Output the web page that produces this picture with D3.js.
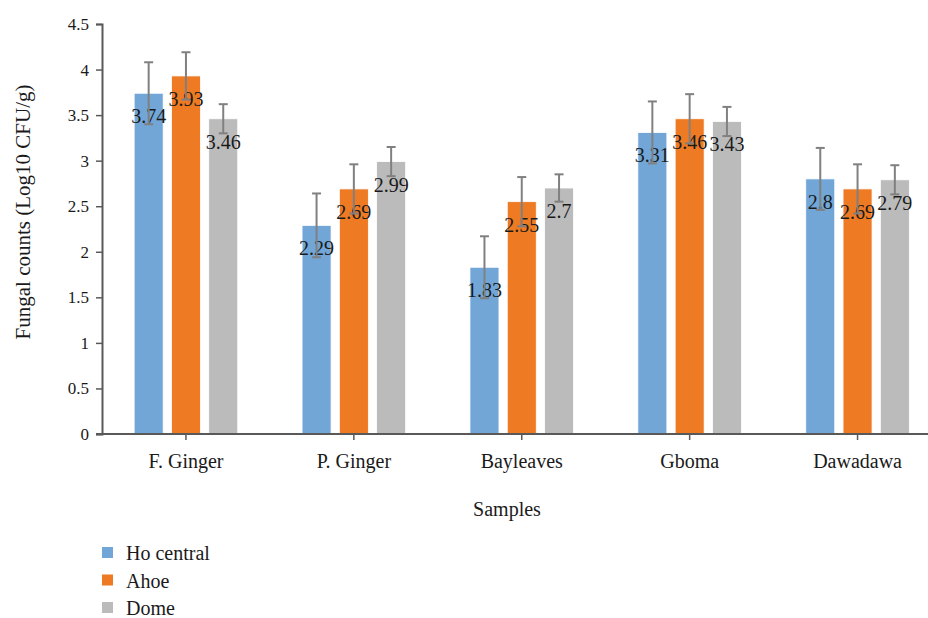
<!DOCTYPE html>
<html>
<head>
<meta charset="utf-8">
<script src="https://cdn.jsdelivr.net/npm/d3@7"></script>
<style>
  html, body { margin: 0; padding: 0; background: #fff; }
  svg { display: block; }
  svg text { font-family: "Liberation Serif", "Times New Roman", serif; }
</style>
</head>
<body>
<svg id="chart" width="928" height="618"></svg>
<script>
const categories = ["F. Ginger", "P. Ginger", "Bayleaves", "Gboma", "Dawadawa"];
const seriesNames = ["Ho central", "Ahoe", "Dome"];
const hoCentral = [3.74, 2.29, 1.83, 3.31, 2.8];
const ahoe = [3.93, 2.69, 2.55, 3.46, 2.69];
const dome = [3.46, 2.99, 2.7, 3.43, 2.79];
const hoCentralErr = [0.34, 0.35, 0.34, 0.34, 0.34];
const ahoeErr = [0.26, 0.27, 0.27, 0.27, 0.27];
const domeErr = [0.16, 0.16, 0.15, 0.16, 0.16];
const yTicks = [0, 0.5, 1, 1.5, 2, 2.5, 3, 3.5, 4, 4.5];
const colors = ["#71A6D7", "#EE7A23", "#BBBBBB"];

const values = [hoCentral, ahoe, dome];
const errors = [hoCentralErr, ahoeErr, domeErr];

const svg = d3.select("#chart");
const mLeft = 102, mRight = 941.5, mTop = 24, mBottom = 434;

const x0 = d3.scaleBand().domain(categories).range([mLeft, mRight])
  .paddingInner(0.383).paddingOuter(0.1915);
const x1 = d3.scaleBand().domain(seriesNames).range([0, x0.bandwidth()]).paddingInner(0.222);
const y = d3.scaleLinear().domain([0, 4.5]).range([mBottom, mTop]);

const data = [];
categories.forEach((c, i) => seriesNames.forEach((s, j) => {
  data.push({cat: c, ser: s, v: values[j][i], e: errors[j][i], color: colors[j]});
}));

const g = svg.append("g");
g.selectAll("rect.bar").data(data).join("rect")
  .attr("class", "bar")
  .attr("x", d => x0(d.cat) + x1(d.ser))
  .attr("y", d => y(d.v))
  .attr("width", x1.bandwidth())
  .attr("height", d => y(0) - y(d.v))
  .attr("fill", d => d.color)
  .attr("stroke", "#ffffff").attr("stroke-width", 0.8);

g.selectAll("text.lbl").data(data).join("text")
  .attr("class", "lbl")
  .attr("x", d => x0(d.cat) + x1(d.ser) + x1.bandwidth() / 2)
  .attr("y", d => y(d.v) + 30)
  .attr("text-anchor", "middle")
  .attr("font-size", 20)
  .attr("fill", "#1a1a1a")
  .text(d => d.v);

const eb = g.selectAll("g.err").data(data).join("g").attr("class", "err")
  .attr("stroke", "#808080").attr("stroke-width", 2);
eb.append("line")
  .attr("x1", d => x0(d.cat) + x1(d.ser) + x1.bandwidth() / 2)
  .attr("x2", d => x0(d.cat) + x1(d.ser) + x1.bandwidth() / 2)
  .attr("y1", d => y(d.v - d.e))
  .attr("y2", d => y(d.v + d.e));
[1, -1].forEach(sgn => {
  eb.append("line")
    .attr("x1", d => x0(d.cat) + x1(d.ser) + x1.bandwidth() / 2 - 4.5)
    .attr("x2", d => x0(d.cat) + x1(d.ser) + x1.bandwidth() / 2 + 4.5)
    .attr("y1", d => y(d.v + sgn * d.e))
    .attr("y2", d => y(d.v + sgn * d.e));
});

const yAxis = svg.append("g")
  .attr("transform", `translate(${mLeft},0)`)
  .call(d3.axisLeft(y).tickValues(yTicks).tickSize(6).tickPadding(7).tickFormat(d3.format("")));
yAxis.attr("font-family", null);
yAxis.select(".domain").attr("stroke", "#595959").attr("stroke-width", 2);
yAxis.selectAll(".tick line").attr("stroke", "#595959").attr("stroke-width", 1.5);
yAxis.selectAll(".tick text").attr("font-size", 17).attr("fill", "#1a1a1a");

const xAxis = svg.append("g")
  .attr("transform", `translate(0,${mBottom})`)
  .call(d3.axisBottom(x0).tickSize(6).tickSizeOuter(0).tickPadding(14));
xAxis.attr("font-family", null);
xAxis.select(".domain").attr("stroke", "#595959").attr("stroke-width", 2)
  .attr("d", `M${mLeft - 6},0H${mRight}`);
xAxis.selectAll(".tick line").attr("stroke", "#595959").attr("stroke-width", 1.5);
xAxis.selectAll(".tick text").attr("font-size", 20).attr("fill", "#1a1a1a");

svg.append("text")
  .attr("x", 507).attr("y", 516)
  .attr("text-anchor", "middle").attr("font-size", 20).attr("fill", "#1a1a1a")
  .text("Samples");
svg.append("text")
  .attr("transform", "translate(30,212) rotate(-90)")
  .attr("text-anchor", "middle").attr("font-size", 21).attr("fill", "#1a1a1a")
  .text("Fungal counts (Log10 CFU/g)");

const legend = svg.append("g").selectAll("g").data(seriesNames).join("g")
  .attr("transform", (d, i) => `translate(102,${547 + i * 27.5})`);
legend.append("rect").attr("width", 11).attr("height", 11)
  .attr("fill", (d, i) => colors[i]);
legend.append("text").attr("x", 24).attr("y", 13)
  .attr("font-size", 20).attr("fill", "#1a1a1a").text(d => d);
</script>
</body>
</html>
